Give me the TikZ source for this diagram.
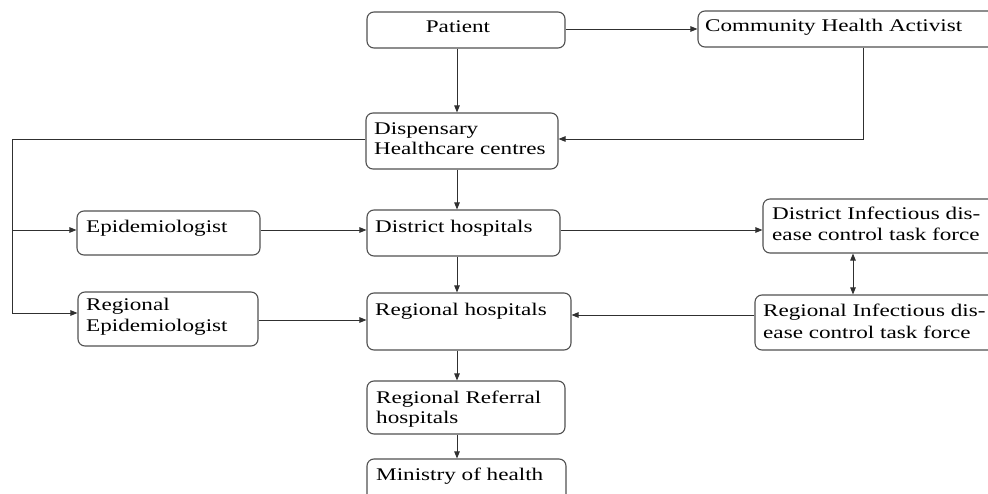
\documentclass[tikz,border=0pt]{standalone}
\usepackage{fontspec}
\setmainfont{Liberation Serif}[FakeStretch=1.3]
\usetikzlibrary{arrows.meta,fit}
\definecolor{edge}{HTML}{505050}
\definecolor{wire}{HTML}{303030}
\tikzset{
  box/.style={draw=edge, line width=1.1pt, rounded corners=7pt, inner sep=0pt},
  txt/.style={inner sep=0pt, text=black, font=\fontsize{17.8}{20}\selectfont},
  link/.style={draw=wire, line width=0.9pt, -{Triangle[length=7pt,width=5.5pt]}},
  both/.style={draw=wire, line width=0.9pt, {Triangle[length=7pt,width=5.5pt]}-{Triangle[length=7pt,width=5.5pt]}},
  wireline/.style={draw=wire, line width=0.9pt}
}
\begin{document}
\begin{tikzpicture}[x=1pt,y=-1pt]
\useasboundingbox (0,0) rectangle (988,494);
\clip (0,0) rectangle (988,494);

% boxes
\node[box, fit={(367,12)(565,48)}]   (pat)  {};
\node[box, fit={(698,11)(1000,47)}]  (cha)  {};
\node[box, fit={(366,113)(558,169)}] (disp) {};
\node[box, fit={(77,211)(260,255)}]  (epi)  {};
\node[box, fit={(367,210)(560,256)}] (dh)   {};
\node[box, fit={(763,199)(1000,253)}] (didc) {};
\node[box, fit={(78,292)(258,346)}]  (repi) {};
\node[box, fit={(367,293)(571,350)}] (rh)   {};
\node[box, fit={(755,295)(1000,350)}] (ridc) {};
\node[box, fit={(367,381)(565,434)}] (rrh)  {};
\node[box, fit={(367,459)(566,510)}] (moh)  {};

% labels
\node[txt, anchor=base] (patT) at (458,33) {Patient};
\node[txt, anchor=base west] (chaT) at (705,32) {Community Health Activist};
\node[txt, anchor=base west] (dispA) at (374,135) {Dispensary};
\node[txt, anchor=base west] (dispB) at (374,155) {Healthcare centres};
\node[txt, anchor=base west] (epiT) at (86,233) {Epidemiologist};
\node[txt, anchor=base west] (dhT) at (375,233) {District hospitals};
\node[txt, anchor=base west] (didcA) at (772,220) {District Infectious dis-};
\node[txt, anchor=base west] (didcB) at (772,241) {ease control task force};
\node[txt, anchor=base west] (repiA) at (86,311) {Regional};
\node[txt, anchor=base west] (repiB) at (86,332) {Epidemiologist};
\node[txt, anchor=base west] (rhT) at (375,316) {Regional hospitals};
\node[txt, anchor=base west] (ridcA) at (763,317) {Regional Infectious dis-};
\node[txt, anchor=base west] (ridcB) at (763,338) {ease control task force};
\node[txt, anchor=base west] (rrhA) at (376,403) {Regional Referral};
\node[txt, anchor=base west] (rrhB) at (376,423) {hospitals};
\node[txt, anchor=base west] (mohT) at (376,480) {Ministry of health};

% guide coordinates
\coordinate (spine) at (457,0);
\coordinate (rail) at (12,0);
\coordinate (drop) at (863,0);
\coordinate (pair) at (853,0);
\coordinate (rowA) at (0,139);
\coordinate (rowB) at (0,230);
\coordinate (rowC) at (0,313);
\coordinate (rowD) at (0,315);
\coordinate (rowE) at (0,320);
\coordinate (rowP) at (0,29);

% connectors
\draw[link] (pat.south -| spine) -- (disp.north -| spine);
\draw[link] (pat.east |- rowP) -- (cha.west |- rowP);
\draw[link] (cha.south -| drop) |- (disp.east |- rowA);
\draw[wireline] (disp.west |- rowA) -- (rail |- rowA) -- (rail |- rowC);
\draw[link] (rail |- rowB) -- (epi.west |- rowB);
\draw[link] (rail |- rowC) -- (repi.west |- rowC);
\draw[link] (epi.east |- rowB) -- (dh.west |- rowB);
\draw[link] (disp.south -| spine) -- (dh.north -| spine);
\draw[link] (dh.east |- rowB) -- (didc.west |- rowB);
\draw[link] (dh.south -| spine) -- (rh.north -| spine);
\draw[both] (didc.south -| pair) -- (ridc.north -| pair);
\draw[link] (ridc.west |- rowD) -- (rh.east |- rowD);
\draw[link] (repi.east |- rowE) -- (rh.west |- rowE);
\draw[link] (rh.south -| spine) -- (rrh.north -| spine);
\draw[link] (rrh.south -| spine) -- (moh.north -| spine);
\end{tikzpicture}
\end{document}
